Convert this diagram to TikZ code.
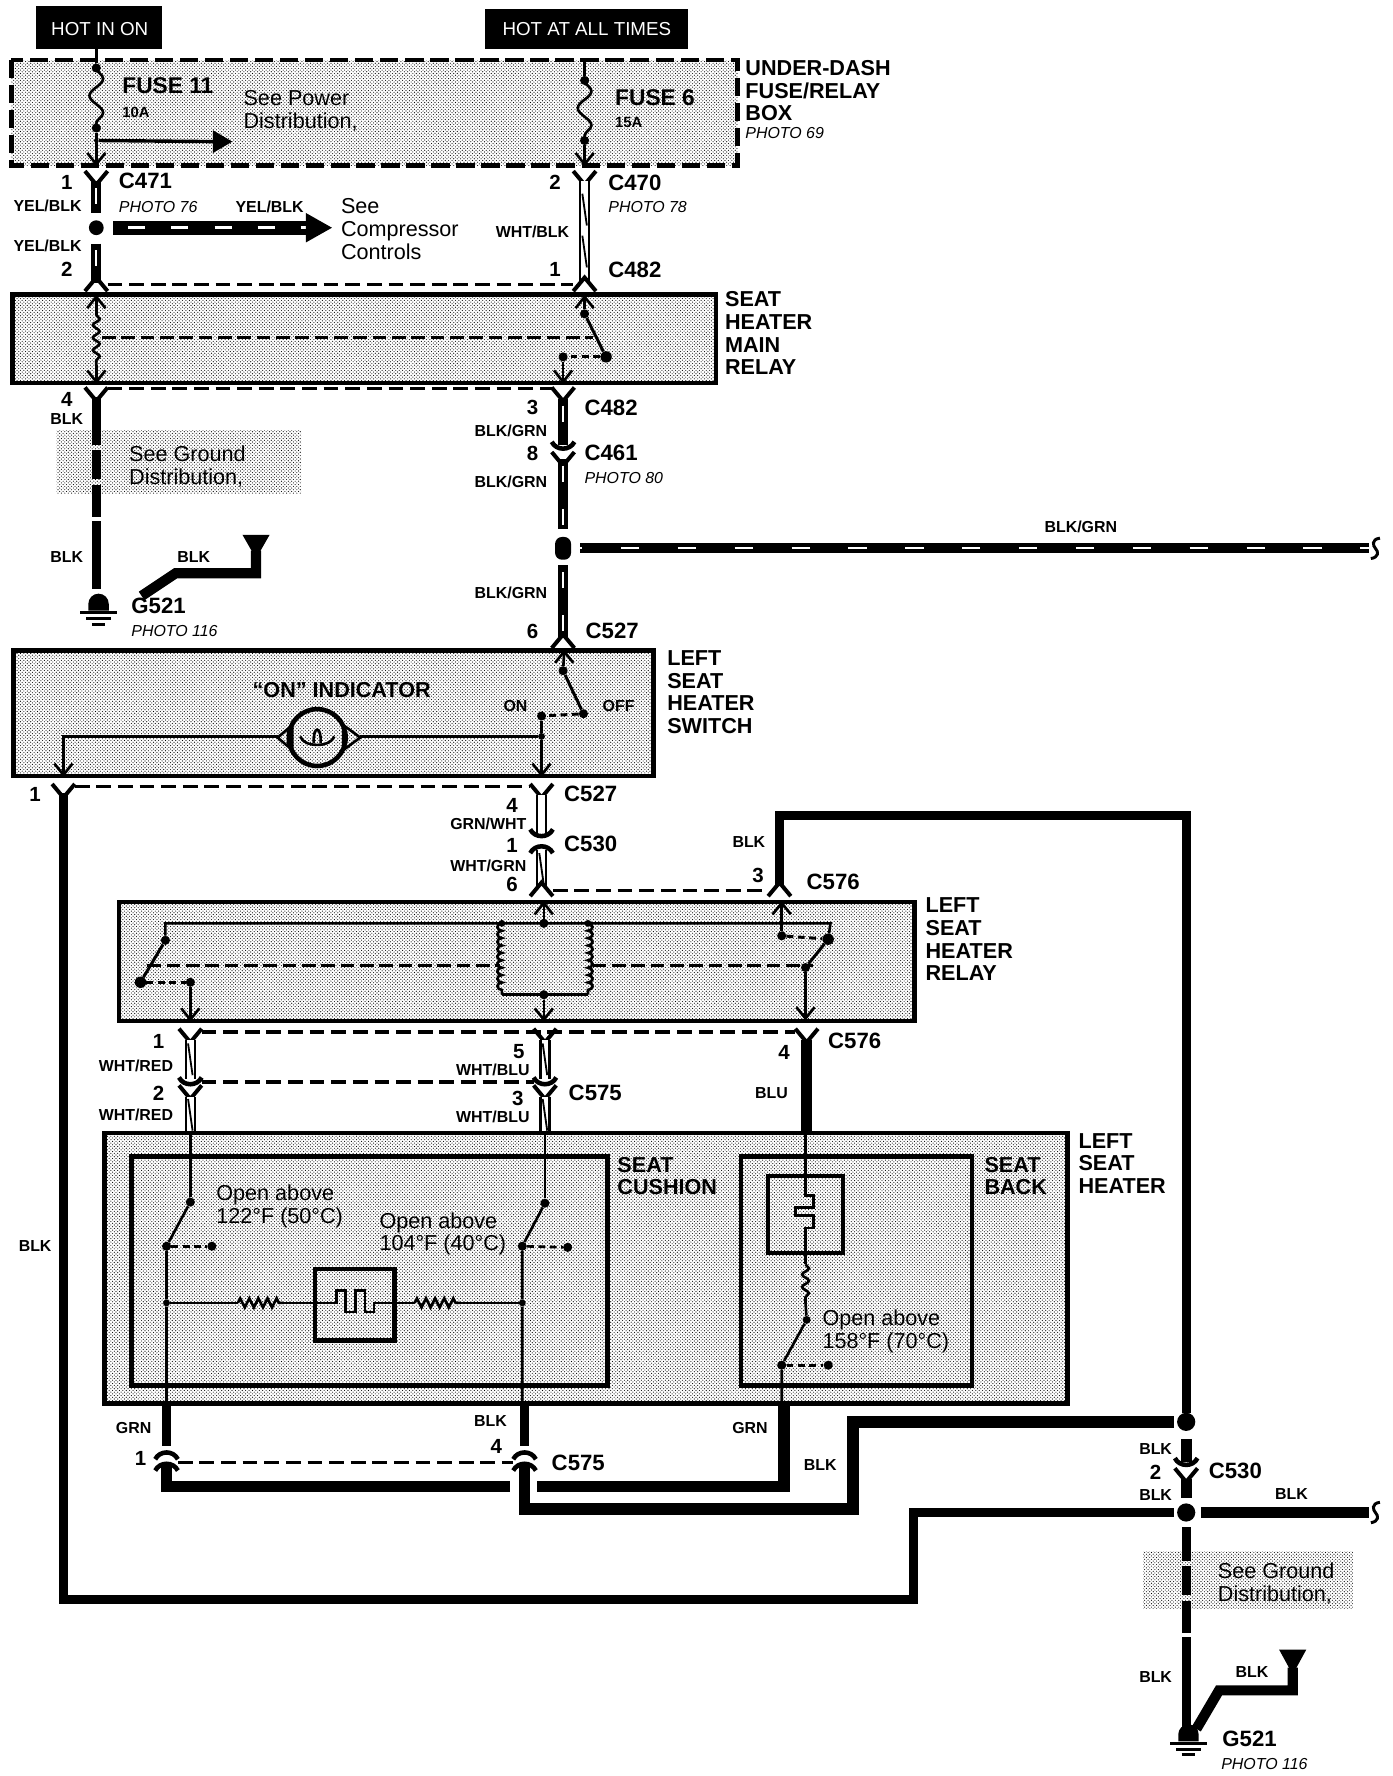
\documentclass[tikz,border=0pt]{standalone}
\usepackage{fontspec}
\setmainfont{Liberation Sans}
\usetikzlibrary{patterns,decorations.pathmorphing}
\newcommand{\fsz}[1]{\fontsize{#1}{#1}\selectfont}
\tikzset{
  lbl/.style={inner sep=0pt,outer sep=0pt,align=left,text=black},
  boxname/.style={lbl,anchor=west,font=\fontsize{19}{20}\selectfont\bfseries},
  plain/.style={lbl,anchor=west,font=\fontsize{19}{20}\selectfont},
  photo/.style={lbl,anchor=west,font=\fsz{14}\itshape},
  wname/.style={lbl,font=\fsz{14}\bfseries},
  conn/.style={lbl,anchor=west,font=\fsz{19.5}\bfseries},
  pin/.style={lbl,font=\fsz{18}\bfseries},
  hot/.style={lbl,text=white,font=\fsz{16.5}},
  hotbox/.style={fill=black},
  shade/.style={pattern=crosshatch dots,pattern color=black},
  case/.style={draw=black,line width=4pt},
  dot/.style={circle,fill=black,inner sep=0pt,minimum size=8pt},
  bigdot/.style={circle,fill=black,inner sep=0pt,minimum size=16pt},
  thinw/.style={line width=2.3pt},
  heavyw/.style={line width=8pt},
  fatw/.style={line width=10pt},
  dashw/.style={line width=3pt,dash pattern=on 13pt off 6pt},
  mechw/.style={line width=2.6pt,dash pattern=on 12pt off 5pt},
  stripew/.style={line width=9pt,postaction={draw,white,line width=2pt,dash pattern=on 14pt off 24pt,dash phase=-6pt}},
  whitew/.style={draw=black,line width=10pt,postaction={draw,white,line width=6pt}},
  wavew/.style={thinw,decorate,decoration={snake,segment length=11pt,amplitude=3pt}},
  coilr/.style={thinw,decorate,decoration={bumps,segment length=13pt,amplitude=4pt}},
  coill/.style={thinw,decorate,decoration={bumps,mirror,segment length=13pt,amplitude=4pt}},
  fusew/.style={thinw,decorate,decoration={snake,segment length=30pt,amplitude=6pt}},
  resw/.style={thinw,decorate,decoration={zigzag,segment length=8pt,amplitude=4pt}},
  yopen/.pic={\draw[line width=3.5pt] (-10,-7)--(0,5)--(10,-7);},
  aopen/.pic={\draw[line width=3.5pt] (-10,7)--(0,-5)--(10,7);},
  cup/.pic={\draw[line width=4pt] (-10,-6) .. controls (-6,2) and (6,2) .. (10,-6);},
  cap/.pic={\draw[line width=4pt] (-10,6) .. controls (-6,-2) and (6,-2) .. (10,6);},
  barbd/.pic={\draw[thinw] (-8,-10)--(0,0)--(8,-10);},
  barbu/.pic={\draw[thinw] (-8,10)--(0,0)--(8,10);},
  nmark/.pic={\draw[line width=1.6pt] (-2,-14)--(2,14);},
  endsq/.pic={\draw[line width=2.6pt] (4,-9) .. controls (-4,-8) and (-2,-2) .. (0,0) .. controls (3,3) and (3,8) .. (-4,9);},
  gnd/.pic={\fill (-9,0) arc[start angle=180,end angle=360,radius=9] -- (9,6) -- (-9,6) -- cycle;
    \draw[line width=2.6pt] (-16,8)--(16,8) (-11,13)--(11,13) (-6,18)--(6,18);}
}
\begin{document}
\begin{tikzpicture}[x=0.9962pt,y=-0.9962pt]
\useasboundingbox (0,0) rectangle (1228.7,1567.6);
\fill[white] (0,0) rectangle (1228.7,1567.6);
% shaded cases
\path[shade] (10,53) rectangle (651,146);
\draw[case,dash pattern=on 16pt off 6pt] (10,53) rectangle (651,146);
\draw[case,shade] (11,260) rectangle (632,338);
\path[shade] (50,380) rectangle (266,436);
\draw[case,shade] (12,574) rectangle (577,685);
\draw[case,shade] (105,796) rectangle (807,901);
\draw[case,shade] (92,1000) rectangle (942,1239);
\draw[case] (116,1021) rectangle (536,1223);
\draw[case] (654,1021) rectangle (858,1223);
\path[shade] (1009,1369) rectangle (1194,1420);
% hot feeds
\fill[hotbox] (32,5) rectangle (143,43);
\fill[hotbox] (428,8) rectangle (607,43);
\node[hot] (hotA) at (88,26) {HOT IN ON};
\node[hot] (hotB) at (518,26) {HOT AT ALL TIMES};
% fuse box
\node[dot] (fa1) at (85,60) {};
\node[dot] (fa2) at (85,113) {};
\node[dot,minimum size=4pt] (fa3) at (85,124) {};
\node[dot] (fb1) at (516,71) {};
\node[dot] (fb2) at (516,124) {};
\coordinate (fa0) at (85,43);
\coordinate (fa4) at (85,145);
\coordinate (fa5) at (190,125);
\coordinate (fb0) at (516,53);
\coordinate (fb3) at (516,145);
\draw[thinw] (fa0)--(fa1);
\draw[fusew] (fa1.center)--(fa2.center);
\draw[thinw] (fa2)--(fa4);
\draw[line width=3pt] (fa3)--(fa5);
\fill (205,125)--(188,115)--(188,135)--cycle;
\pic at (85,145) {barbd};
\draw[thinw] (fb0)--(fb1);
\draw[fusew] (fb1.center)--(fb2.center);
\draw[thinw] (fb2)--(fb3);
\pic at (516,145) {barbd};
% feed wires
\pic at (85,158) {yopen};
\pic at (516,158) {yopen};
\coordinate (ya1) at (85,160);
\coordinate (ya2) at (85,188);
\node[dot,minimum size=13pt] (ya3) at (85,201) {};
\coordinate (ya4) at (85,215);
\coordinate (ya5) at (85,250);
\draw[stripew] (ya1)--(ya2);
\draw[stripew] (ya4)--(ya5);
\pic at (85,250) {aopen};
\coordinate (yc1) at (100,201);
\coordinate (yc2) at (272,201);
\draw[line width=12pt,postaction={draw,white,line width=2.5pt,dash pattern=on 15pt off 23pt,dash phase=-13pt}] (yc1)--(yc2);
\fill (293,201)--(270,188)--(270,214)--cycle;
\coordinate (wb1) at (516,160);
\coordinate (wb2) at (516,250);
\draw[whitew] (wb1)--(wb2);
\pic at (516,185) {nmark};
\pic at (516,222) {nmark};
\pic at (516,250) {aopen};
\coordinate (da1) at (95,251);
\coordinate (da2) at (506,251);
\draw[dashw] (da1)--(da2);
% main relay
\pic at (85,262) {barbu};
\pic at (85,337) {barbd};
\coordinate (ma1) at (85,262);
\coordinate (ma2) at (85,278);
\coordinate (ma3) at (85,322);
\coordinate (ma4) at (85,337);
\draw[thinw] (ma1)--(ma2) (ma3)--(ma4);
\draw[wavew] (ma2)--(ma3);
\coordinate (ma5) at (90,298);
\coordinate (ma6) at (523,298);
\draw[mechw] (ma5)--(ma6);
\pic at (516,262) {barbu};
\node[dot] (mb1) at (516,277) {};
\node[dot,minimum size=10pt] (mb2) at (535,315) {};
\node[dot] (mb3) at (497,315) {};
\coordinate (mb0) at (516,262);
\coordinate (mb4) at (497,337);
\draw[thinw] (mb0)--(mb1);
\draw[line width=2.6pt] (mb1)--(mb2);
\draw[line width=2.6pt,dash pattern=on 6pt off 4pt] (mb2)--(mb3);
\draw[thinw] (mb3)--(mb4);
\pic at (497,337) {barbd};
% below main relay
\pic at (85,349) {yopen};
\pic at (497,349) {yopen};
\coordinate (db1) at (95,343);
\coordinate (db2) at (487,343);
\draw[dashw] (db1)--(db2);
\coordinate (ga1) at (85,350);
\coordinate (ga2) at (85,393);
\coordinate (ga3) at (85,397);
\coordinate (ga4) at (85,423);
\coordinate (ga5) at (85,428);
\coordinate (ga6) at (85,456);
\coordinate (ga7) at (85,460);
\coordinate (ga8) at (85,520);
\draw[heavyw] (ga1)--(ga2) (ga3)--(ga4) (ga5)--(ga6) (ga7)--(ga8);
\pic at (87,533) {gnd};
\coordinate (gb1) at (125,526);
\coordinate (gb2) at (155,506);
\coordinate (gb3) at (226,506);
\coordinate (gb4) at (226,486);
\draw[line width=9pt] (gb1)--(gb2)--(gb3)--(gb4);
\fill (214,472)--(238,472)--(226,493)--cycle;
% striped feed to switch
\coordinate (sa1) at (497,352);
\coordinate (sa2) at (497,393);
\coordinate (sa3) at (497,405);
\coordinate (sa4) at (497,467);
\draw[stripew] (sa1)--(sa2);
\pic at (497,396) {cup};
\pic at (497,406) {yopen};
\draw[stripew] (sa3)--(sa4);
\node[rectangle,fill=black,inner sep=0pt,minimum width=14pt,minimum height=20pt,rounded corners=6pt] (sj) at (497,484) {};
\coordinate (sb1) at (512,484);
\coordinate (sb2) at (1208,484);
\draw[line width=9pt,postaction={draw,white,line width=2pt,dash pattern=on 16pt off 34pt,dash phase=-36pt}] (sb1)--(sb2);
\pic at (1214,484) {endsq};
\coordinate (sc1) at (497,499);
\coordinate (sc2) at (497,563);
\draw[stripew] (sc1)--(sc2);
\pic at (497,565) {aopen};
% left seat heater switch
\pic at (498,575) {barbu};
\coordinate (ls0) at (498,575);
\node[dot] (ls1) at (497,592) {};
\node[dot] (ls2) at (515,630) {};
\node[dot] (ls3) at (478,632) {};
\node[dot,minimum size=6pt] (ls4) at (478,650) {};
\coordinate (ls5) at (478,684);
\coordinate (ls6) at (56,684);
\coordinate (ls7) at (56,650);
\draw[thinw] (ls0)--(ls1);
\draw[line width=2.6pt] (ls1)--(ls2);
\draw[line width=2.6pt,dash pattern=on 6pt off 4pt] (ls2)--(ls3);
\draw[thinw] (ls3)--(ls4)--(ls5);
\pic at (478,684) {barbd};
\pic at (56,684) {barbd};
\draw[thinw] (ls6)--(ls7)--(245,650);
\draw[thinw] (318,650)--(ls4);
% lamp
\node[circle,draw,line width=4pt,inner sep=0pt,minimum size=50pt] (lamp) at (280,651) {};
\draw[thinw] (245,651)--(258,640)--(258,662)--cycle;
\draw[thinw] (318,651)--(303,640)--(303,662)--cycle;
\draw[thinw] (265,650) .. controls (268,660) and (292,660) .. (295,650);
\draw[thinw] (277,656) .. controls (276,640) and (284,640) .. (283,656);
% below switch
\pic at (56,699) {yopen};
\pic at (478,699) {yopen};
\coordinate (dc1) at (66,694);
\coordinate (dc2) at (468,694);
\draw[dashw] (dc1)--(dc2);
\coordinate (bk1) at (56,700);
\coordinate (bk2) at (56,1412);
\coordinate (bk3) at (806,1412);
\coordinate (bk4) at (806,1335);
\coordinate (bk5) at (1036,1335);
\draw[heavyw] (bk1)--(bk2)--(bk3)--(bk4)--(bk5);
\coordinate (gw1) at (478,702);
\coordinate (gw2) at (478,735);
\draw[whitew] (gw1)--(gw2);
\pic at (478,738) {cup};
\pic at (478,747) {cap};
\coordinate (gw3) at (478,750);
\coordinate (gw4) at (478,784);
\draw[whitew] (gw3)--(gw4);
\pic at (478,767) {nmark};
\pic at (478,784) {aopen};
\pic at (688,784) {aopen};
\coordinate (dd1) at (488,786);
\coordinate (dd2) at (678,786);
\draw[dashw] (dd1)--(dd2);
\coordinate (bt1) at (688,782);
\coordinate (bt2) at (688,720);
\coordinate (bt3) at (1047,720);
\node[bigdot] (bt4) at (1047,1255) {};
\draw[heavyw] (bt1)--(bt2)--(bt3)--(bt4);
% left seat heater relay
\pic at (480,797) {barbu};
\pic at (690,797) {barbu};
\coordinate (ra0) at (480,797);
\node[dot] (ra1) at (480,815) {};
\node[dot,minimum size=6pt] (ra2) at (443,815) {};
\node[dot,minimum size=6pt] (ra3) at (519,815) {};
\node[dot] (ra4) at (480,878) {};
\coordinate (ra5) at (480,900);
\coordinate (ra6) at (443,878);
\coordinate (ra7) at (519,878);
\draw[thinw] (ra0)--(ra1);
\draw[coill] (ra2.center)--(ra6);
\draw[coilr] (ra3.center)--(ra7);
\draw[thinw] (ra6)--(ra7);
\draw[thinw] (ra4)--(ra5);
\pic at (480,900) {barbd};
\node[dot] (rb1) at (146,830) {};
\node[dot,minimum size=10pt] (rb2) at (124,867) {};
\node[dot] (rb3) at (168,867) {};
\coordinate (rb0) at (146,815);
\coordinate (rb4) at (168,900);
\coordinate (rc0) at (733,815);
\node[dot,minimum size=10pt] (rc1) at (731,829) {};
\node[dot] (rc2) at (711,854) {};
\coordinate (rc3) at (711,899);
\coordinate (rc4) at (690,797);
\node[dot] (rc5) at (690,826) {};
\draw[thinw] (rb1)--(rb0)--(rc0)--(rc1);
\draw[line width=2.6pt] (rb1)--(rb2);
\draw[line width=2.6pt,dash pattern=on 6pt off 4pt] (rb2)--(rb3);
\draw[thinw] (rb3)--(rb4);
\pic at (168,900) {barbd};
\draw[line width=2.6pt] (rc1)--(rc2);
\draw[thinw] (rc2)--(rc3);
\pic at (711,899) {barbd};
\draw[thinw] (rc4)--(rc5);
\draw[line width=2.6pt,dash pattern=on 6pt off 4pt] (rc5)--(rc1);
\coordinate (rm1) at (130,852);
\coordinate (rm2) at (441,852);
\coordinate (rm3) at (523,852);
\coordinate (rm4) at (718,852);
\draw[mechw] (rm1)--(rm2) (rm3)--(rm4);
% wires to heater
\pic at (168,915) {yopen};
\pic at (481,915) {yopen};
\pic at (712,915) {yopen};
\coordinate (de1) at (178,911);
\coordinate (de2) at (702,911);
\draw[dashw] (de1)--(de2);
\coordinate (h1) at (168,918);
\coordinate (h2) at (168,952);
\coordinate (h3) at (481,918);
\coordinate (h4) at (481,952);
\draw[whitew] (h1)--(h2);
\draw[whitew] (h3)--(h4);
\pic at (168,935) {nmark};
\pic at (481,935) {nmark};
\coordinate (df1) at (178,955);
\coordinate (df2) at (471,955);
\draw[dashw] (df1)--(df2);
\pic at (168,957) {cup};
\pic at (481,957) {cup};
\pic at (168,965) {yopen};
\pic at (481,965) {yopen};
\coordinate (h5) at (168,968);
\coordinate (h6) at (168,998);
\coordinate (h7) at (481,968);
\coordinate (h8) at (481,998);
\draw[whitew] (h5)--(h6);
\draw[whitew] (h7)--(h8);
\pic at (168,984) {nmark};
\pic at (481,984) {nmark};
\coordinate (bl1) at (712,918);
\coordinate (bl2) at (712,1000);
\draw[fatw] (bl1)--(bl2);
% seat cushion
\coordinate (sa0) at (168,998);
\node[dot] (ca1) at (168,1061) {};
\node[dot] (ca2) at (147,1100) {};
\node[dot] (ca3) at (187,1100) {};
\node[dot,minimum size=6pt] (ca4) at (147,1150) {};
\coordinate (ca5) at (147,1239);
\draw[thinw] (sa0)--(ca1);
\draw[thinw] (ca1)--(ca2)--(ca4)--(ca5);
\draw[thinw,dash pattern=on 6pt off 4pt] (ca2)--(ca3);
\coordinate (sb0) at (481,998);
\node[dot] (cb1) at (481,1062) {};
\node[dot] (cb2) at (461,1100) {};
\node[dot] (cb3) at (501,1101) {};
\node[dot,minimum size=6pt] (cb4) at (461,1150) {};
\coordinate (cb5) at (461,1239);
\draw[thinw] (sb0)--(cb1);
\draw[thinw] (cb1)--(cb2)--(cb4)--(cb5);
\draw[thinw,dash pattern=on 6pt off 4pt] (cb2)--(cb3);
\draw[line width=4pt] (278,1120) rectangle (348,1183);
\coordinate (ce1) at (210,1150);
\coordinate (ce2) at (250,1150);
\coordinate (ce3) at (366,1150);
\coordinate (ce4) at (406,1150);
\draw[thinw] (ca4)--(ce1) (ce2)--(278,1150)--(297,1150)--(297,1139)--(305,1139)--(305,1158)--(314,1158)--(314,1139)--(322,1139)--(322,1158)--(330,1158)--(330,1150)--(ce3) (ce4)--(cb4);
\draw[resw] (ce1)--(ce2);
\draw[resw] (ce3)--(ce4);
% seat back
\draw[line width=4pt] (678,1038) rectangle (744,1106);
\coordinate (ba0) at (711,1000);
\coordinate (ba1) at (711,1116);
\coordinate (ba2) at (711,1150);
\node[dot,minimum size=7pt] (ba3) at (712,1165) {};
\node[dot] (ba4) at (690,1205) {};
\node[dot] (ba5) at (731,1205) {};
\coordinate (ba6) at (690,1239);
\draw[thinw] (ba0)--(711,1055)--(718,1055)--(718,1066)--(702,1066)--(702,1073)--(718,1073)--(718,1084)--(711,1084)--(ba1);
\draw[wavew] (ba1)--(ba2);
\draw[thinw] (ba2)--(ba3)--(ba4)--(ba6);
\draw[thinw,dash pattern=on 6pt off 4pt] (ba4)--(ba5);
% lower loops
\coordinate (la1) at (147,1241);
\coordinate (la2) at (147,1276);
\coordinate (la3) at (463,1241);
\coordinate (la4) at (463,1276);
\draw[heavyw] (la1)--(la2);
\draw[heavyw] (la3)--(la4);
\pic at (147,1282) {cap};
\pic at (463,1282) {cap};
\pic at (147,1292) {cap};
\pic at (463,1292) {cap};
\coordinate (dg1) at (157,1291);
\coordinate (dg2) at (453,1291);
\draw[dashw] (dg1)--(dg2);
\coordinate (lb1) at (147,1294);
\coordinate (lb2) at (147,1312);
\coordinate (lb3) at (450,1312);
\coordinate (lb4) at (474,1312);
\coordinate (lb5) at (692,1312);
\coordinate (lb6) at (692,1241);
\draw[fatw] (lb1)--(lb2)--(lb3);
\draw[fatw] (lb4)--(lb5)--(lb6);
\coordinate (lc1) at (463,1294);
\coordinate (lc2) at (463,1332);
\coordinate (lc3) at (753,1332);
\coordinate (lc4) at (753,1255);
\coordinate (lc5) at (1036,1255);
\draw[fatw] (lc1)--(lc2)--(lc3)--(lc4)--(lc5);
% right ground run
\coordinate (rg1) at (1047,1270);
\coordinate (rg2) at (1047,1290);
\draw[fatw] (rg1)--(rg2);
\pic at (1047,1293) {cup};
\pic at (1047,1303) {yopen};
\coordinate (rg3) at (1047,1305);
\coordinate (rg4) at (1047,1322);
\draw[fatw] (rg3)--(rg4);
\node[bigdot] (rj) at (1047,1335) {};
\coordinate (rh1) at (1060,1335);
\coordinate (rh2) at (1208,1335);
\draw[fatw] (rh1)--(rh2);
\pic at (1214,1335) {endsq};
\coordinate (ri1) at (1047,1348);
\coordinate (ri2) at (1047,1378);
\coordinate (ri3) at (1047,1382);
\coordinate (ri4) at (1047,1408);
\coordinate (ri5) at (1047,1413);
\coordinate (ri6) at (1047,1441);
\coordinate (ri7) at (1047,1445);
\coordinate (ri8) at (1047,1526);
\draw[heavyw] (ri1)--(ri2) (ri3)--(ri4) (ri5)--(ri6) (ri7)--(ri8);
\pic at (1049,1531) {gnd};
\coordinate (rk1) at (1056,1526);
\coordinate (rk2) at (1076,1492);
\coordinate (rk3) at (1141,1492);
\coordinate (rk4) at (1141,1472);
\draw[line width=9pt] (rk1)--(rk2)--(rk3)--(rk4);
\fill (1129,1456)--(1153,1456)--(1141,1478)--cycle;
% box names
\node[boxname] (nFuse) at (658,80) {UNDER-DASH\\FUSE/RELAY\\BOX};
\node[photo] (pFuse) at (658,117) {PHOTO 69};
\node[boxname] (nMain) at (640,294) {SEAT\\HEATER\\MAIN\\RELAY};
\node[boxname] (nSw) at (589,611) {LEFT\\SEAT\\HEATER\\SWITCH};
\node[boxname] (nRelay) at (817,829) {LEFT\\SEAT\\HEATER\\RELAY};
\node[boxname] (nHeat) at (952,1027) {LEFT\\SEAT\\HEATER};
\node[boxname] (nCush) at (545,1038) {SEAT\\CUSHION};
\node[boxname] (nBack) at (869,1038) {SEAT\\BACK};
\node[boxname] (nOn) at (223,609) {``ON'' INDICATOR};
\node[lbl,anchor=west,font=\fsz{20}\bfseries] (nF11) at (108,76) {FUSE 11};
\node[lbl,anchor=west,font=\fsz{13}\bfseries] (nF11a) at (108,99) {10A};
\node[lbl,anchor=west,font=\fsz{20}\bfseries] (nF6) at (543,86) {FUSE 6};
\node[lbl,anchor=west,font=\fsz{13}\bfseries] (nF6a) at (543,108) {15A};
\node[plain] (tPow) at (215,98) {See Power\\Distribution,};
\node[plain] (tCmp) at (301,202) {See\\Compressor\\Controls};
\node[plain] (tGa) at (114,412) {See Ground\\Distribution,};
\node[plain] (tGb) at (1075,1398) {See Ground\\Distribution,};
\node[plain] (tOa) at (191,1065) {Open above\\122°F (50°C)};
\node[plain] (tOb) at (335,1089) {Open above\\104°F (40°C)};
\node[plain] (tOc) at (726,1175) {Open above\\158°F (70°C)};
\node[lbl,font=\fsz{14}\bfseries] (tOn) at (455,623) {ON};
\node[lbl,font=\fsz{14}\bfseries] (tOff) at (546,623) {OFF};
% connector names
\node[conn] (c471) at (105,160) {C471};
\node[conn] (c470) at (537,161) {C470};
\node[conn] (c482a) at (537,238) {C482};
\node[conn] (c482b) at (516,360) {C482};
\node[conn] (c461) at (516,400) {C461};
\node[conn] (c527a) at (517,557) {C527};
\node[conn] (c527b) at (498,701) {C527};
\node[conn] (c530a) at (498,745) {C530};
\node[conn] (c576a) at (712,778) {C576};
\node[conn] (c576b) at (731,919) {C576};
\node[conn] (c575a) at (502,965) {C575};
\node[conn] (c575b) at (487,1291) {C575};
\node[conn] (c530b) at (1067,1298) {C530};
\node[conn] (g521a) at (116,535) {G521};
\node[conn] (g521b) at (1079,1535) {G521};
\node[photo] (p76) at (105,183) {PHOTO 76};
\node[photo] (p78) at (537,183) {PHOTO 78};
\node[photo] (p80) at (516,422) {PHOTO 80};
\node[photo] (p116a) at (116,557) {PHOTO 116};
\node[photo] (p116b) at (1078,1557) {PHOTO 116};
% pin numbers
\node[pin] (n1) at (59,161) {1};
\node[pin] (n2) at (59,238) {2};
\node[pin] (n3) at (490,161) {2};
\node[pin] (n4) at (490,238) {1};
\node[pin] (n5) at (59,353) {4};
\node[pin] (n6) at (470,360) {3};
\node[pin] (n7) at (470,400) {8};
\node[pin] (n8) at (470,557) {6};
\node[pin] (n9) at (31,701) {1};
\node[pin] (n10) at (452,711) {4};
\node[pin] (n11) at (452,746) {1};
\node[pin] (n12) at (452,781) {6};
\node[pin] (n13) at (669,773) {3};
\node[pin] (n14) at (140,919) {1};
\node[pin] (n15) at (140,965) {2};
\node[pin] (n16) at (458,928) {5};
\node[pin] (n17) at (457,970) {3};
\node[pin] (n18) at (692,929) {4};
\node[pin] (n19) at (124,1287) {1};
\node[pin] (n20) at (438,1277) {4};
\node[pin] (n21) at (1020,1300) {2};
% wire colours
\node[wname] (w1) at (42,182) {YEL/BLK};
\node[wname] (w2) at (42,217) {YEL/BLK};
\node[wname] (w3) at (238,183) {YEL/BLK};
\node[wname] (w4) at (470,205) {WHT/BLK};
\node[wname] (w5) at (59,370) {BLK};
\node[wname] (w6) at (451,380) {BLK/GRN};
\node[wname] (w7) at (451,425) {BLK/GRN};
\node[wname] (w8) at (59,492) {BLK};
\node[wname] (w9) at (171,492) {BLK};
\node[wname] (w10) at (954,465) {BLK/GRN};
\node[wname] (w11) at (451,523) {BLK/GRN};
\node[wname] (w12) at (431,727) {GRN/WHT};
\node[wname] (w13) at (431,764) {WHT/GRN};
\node[wname] (w14) at (661,743) {BLK};
\node[wname] (w15) at (120,941) {WHT/RED};
\node[wname] (w16) at (120,984) {WHT/RED};
\node[wname] (w17) at (435,944) {WHT/BLU};
\node[wname] (w18) at (435,986) {WHT/BLU};
\node[wname] (w19) at (681,965) {BLU};
\node[wname] (w20) at (31,1100) {BLK};
\node[wname] (w21) at (118,1260) {GRN};
\node[wname] (w22) at (433,1254) {BLK};
\node[wname] (w23) at (662,1260) {GRN};
\node[wname] (w24) at (724,1293) {BLK};
\node[wname] (w25) at (1020,1279) {BLK};
\node[wname] (w26) at (1020,1320) {BLK};
\node[wname] (w27) at (1140,1319) {BLK};
\node[wname] (w28) at (1020,1480) {BLK};
\node[wname] (w29) at (1105,1476) {BLK};
\end{tikzpicture}
\end{document}
